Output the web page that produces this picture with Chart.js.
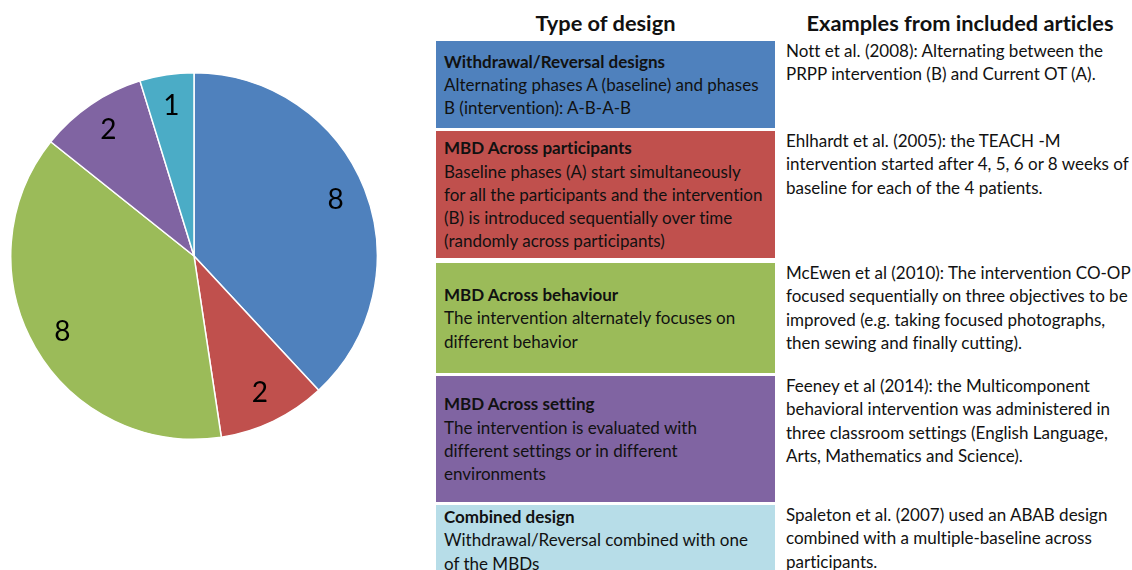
<!DOCTYPE html>
<html>
<head>
<meta charset="utf-8">
<script src="https://cdn.jsdelivr.net/npm/chart.js@4/dist/chart.umd.min.js"></script>
<style>
  body { margin: 0; width: 1132px; height: 570px; background: #fff; overflow: hidden; position: relative;
         font-family: Lato, "Open Sans", sans-serif; color: #111; font-variant-ligatures: none; }
  #pie-box { position: absolute; left: 10px; top: 72px; width: 368px; height: 368px; }
  .head { position: absolute; top: 9px; font-weight: bold; font-size: 21.8px; white-space: nowrap; text-align: center; }
  .cell { position: absolute; left: 436px; width: 339px; display: flex; flex-direction: column; justify-content: center;
          box-sizing: border-box; padding-left: 8px; font-size: 17px; line-height: 23.3px; white-space: nowrap; }
  .cell b { font-weight: bold; }
  .example { position: absolute; left: 786px; font-size: 17px; line-height: 23.3px; white-space: nowrap; }
</style>
</head>
<body>
<div id="pie-box"><canvas id="pie"></canvas></div>
<div class="head" style="left:436px;width:339px;">Type of design</div>
<div class="head" style="left:806px;width:308px;">Examples from included articles</div>
<div id="table"></div>
<script>
// Data jumlah artikel per jenis desain
var designTypes = ['Withdrawal/Reversal designs', 'MBD Across participants', 'MBD Across behaviour', 'MBD Across setting', 'Combined design'];
var articleCounts = [8, 2, 8, 2, 1];
var pieColors = ['#4F81BD', '#C0504D', '#9BBB59', '#8064A2', '#4BACC6'];

// Teks tabel di kanan (baris sudah dipecah seperti gambar)
var designDescriptions = [
  ['Alternating phases A (baseline) and phases', 'B (intervention): A-B-A-B'],
  ['Baseline phases (A) start simultaneously', 'for all the participants and the intervention', '(B) is introduced sequentially over time', '(randomly across participants)'],
  ['The intervention alternately focuses on', 'different behavior'],
  ['The intervention is evaluated with', 'different settings or in different', 'environments'],
  ['Withdrawal/Reversal combined with one', 'of the MBDs']
];
var articleExamples = [
  ['Nott et al. (2008): Alternating between the', 'PRPP intervention (B) and Current OT (A).'],
  ['Ehlhardt et al. (2005): the TEACH -M', 'intervention started after 4, 5, 6 or 8 weeks of', 'baseline for each of the 4 patients.'],
  ['McEwen et al (2010): The intervention CO-OP', 'focused sequentially on three objectives to be', 'improved (e.g. taking focused photographs,', 'then sewing and finally cutting).'],
  ['Feeney et al (2014): the Multicomponent', 'behavioral intervention was administered in', 'three classroom settings (English Language,', 'Arts, Mathematics and Science).'],
  ['Spaleton et al. (2007) used an ABAB design', 'combined with a multiple-baseline across', 'participants.']
];
var cellColors = ['#4F81BD', '#C0504D', '#9BBB59', '#8064A2', '#B7DDE8'];
var rowTops = [41, 131, 263, 376, 505];
var rowHeights = [87, 127, 110, 126, 90];

// Membuat tabel
var table = document.getElementById('table');
for (var i = 0; i < designTypes.length; i++) {
  var cell = document.createElement('div');
  cell.className = 'cell';
  cell.style.top = rowTops[i] + 'px';
  cell.style.height = rowHeights[i] + 'px';
  cell.style.background = cellColors[i];
  if (i == 4) { cell.style.justifyContent = 'flex-start'; }
  cell.innerHTML = '<b>' + designTypes[i] + '</b>' + designDescriptions[i].map(function(t) { return '<span>' + t + '</span>'; }).join('');
  table.appendChild(cell);

  var ex = document.createElement('div');
  ex.className = 'example';
  ex.style.top = (rowTops[i] - 2) + 'px';
  ex.innerHTML = articleExamples[i].join('<br>');
  table.appendChild(ex);
}

// Plugin kecil untuk menulis angka di dalam irisan
var sliceLabels = {
  id: 'sliceLabels',
  afterDatasetsDraw: function(chart) {
    var ctx = chart.ctx;
    var meta = chart.getDatasetMeta(0);
    ctx.save();
    ctx.font = '28px Lato, "Open Sans", sans-serif';
    ctx.fillStyle = '#000';
    ctx.textAlign = 'center';
    ctx.textBaseline = 'middle';
    meta.data.forEach(function(arc, idx) {
      var p = arc.getProps(['x', 'y', 'startAngle', 'endAngle', 'outerRadius'], true);
      var mid = (p.startAngle + p.endAngle) / 2;
      var r = p.outerRadius * 0.83;
      ctx.fillText(chart.data.datasets[0].data[idx], p.x + Math.cos(mid) * r, p.y + Math.sin(mid) * r);
    });
    ctx.restore();
  }
};

var pieChart = new Chart(document.getElementById('pie'), {
  type: 'pie',
  data: {
    labels: designTypes,
    datasets: [{
      data: articleCounts,
      backgroundColor: pieColors,
      borderColor: '#fff',
      borderWidth: 1.5
    }]
  },
  options: {
    responsive: true,
    maintainAspectRatio: false,
    animation: false,
    plugins: { legend: { display: false }, tooltip: { enabled: false } }
  },
  plugins: [sliceLabels]
});
</script>
</body>
</html>
